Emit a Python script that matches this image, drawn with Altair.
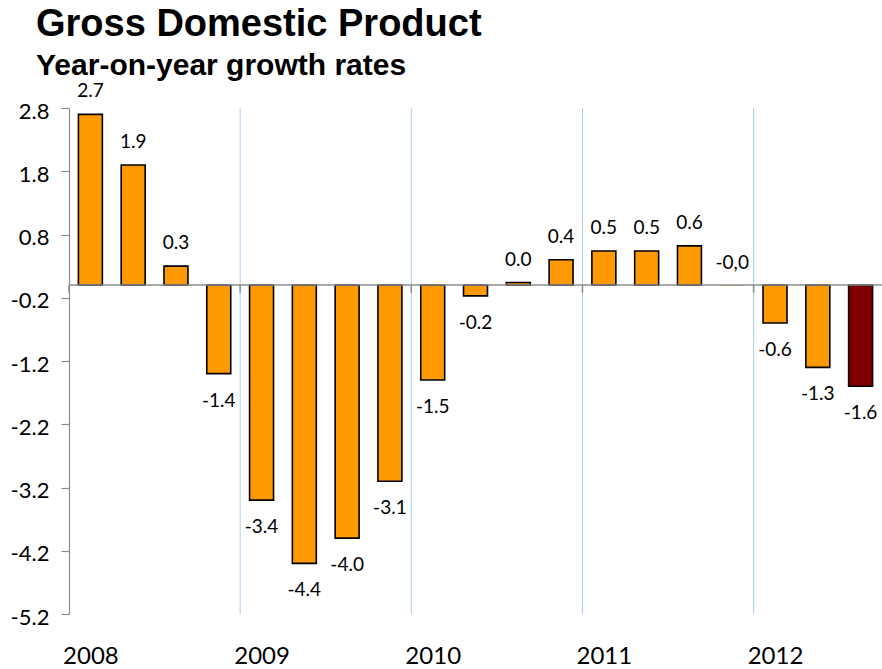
import altair as alt
import pandas as pd

years = ["2008", "2009", "2010", "2011", "2012"]
quarters = ["2008 Q1", "2008 Q2", "2008 Q3", "2008 Q4",
            "2009 Q1", "2009 Q2", "2009 Q3", "2009 Q4",
            "2010 Q1", "2010 Q2", "2010 Q3", "2010 Q4",
            "2011 Q1", "2011 Q2", "2011 Q3", "2011 Q4",
            "2012 Q1", "2012 Q2", "2012 Q3"]
values = [2.7, 1.9, 0.3, -1.4, -3.4, -4.4, -4.0, -3.1, -1.5, -0.17, 0.04,
          0.4, 0.54, 0.54, 0.62, -0.01, -0.6, -1.3, -1.6]
labels = ["2.7", "1.9", "0.3", "-1.4", "-3.4", "-4.4", "-4.0", "-3.1", "-1.5",
          "-0.2", "0.0", "0.4", "0.5", "0.5", "0.6", "-0,0", "-0.6", "-1.3", "-1.6"]
latest = ["no"] * 18 + ["yes"]
y_ticks = [-5.2, -4.2, -3.2, -2.2, -1.2, -0.2, 0.8, 1.8, 2.8]

df = pd.DataFrame({
    "quarter": quarters,
    "idx": list(range(len(quarters))),
    "value": values,
    "label": labels,
    "latest": latest,
})

year_start = [quarters.index(y + " Q1") for y in years]
bounds = pd.DataFrame({"b": [i - 0.5 for i in year_start[1:]] + [-0.5]})
grid_df = pd.DataFrame({"b": [i - 0.5 for i in year_start[1:]]})
zero_df = pd.DataFrame({"z": [0.0]})

xscale = alt.Scale(domain=[-0.5, len(quarters) - 0.5], nice=False, zero=False)
yscale = alt.Scale(domain=[-5.2, 2.8], nice=False, zero=False)

label_expr = "[" + ",".join("'" + y + "'" for y in years) + "][round(datum.value/4)]"
y_label_expr = "(datum.value < 0 ? '-' : '') + format(abs(datum.value), '.1f')"

bars = alt.Chart(df).transform_calculate(
    xl="datum.idx - 0.28", xr="datum.idx + 0.28", base="0",
    edge="abs(datum.value) < 0.02 ? 'transparent' : 'black'"
).mark_bar(strokeWidth=1.6).encode(
    x=alt.X("xl:Q", scale=xscale,
            axis=alt.Axis(values=year_start, labelExpr=label_expr, domain=False,
                          ticks=False, grid=False, title=None, labelFont="Lato",
                          labelFontSize=24, labelColor="black", labelPadding=30,
                          labelFlush=False)),
    x2="xr:Q",
    y=alt.Y("value:Q", scale=yscale,
            axis=alt.Axis(values=y_ticks, labelExpr=y_label_expr, title=None,
                          grid=False, domainColor="#8c8c8c", domainWidth=1.2,
                          tickColor="#8c8c8c", tickSize=8, tickWidth=1.2,
                          labelFont="Lato", labelFontSize=22, labelColor="black",
                          labelPadding=12, labelOffset=3)),
    y2="base:Q",
    color=alt.Color("latest:N", scale=alt.Scale(domain=["no", "yes"],
                    range=["#ff9900", "#800000"]), legend=None),
    stroke=alt.Stroke("edge:N", scale=None),
)

grid = alt.Chart(grid_df).mark_rule(color="#a9cdf5", strokeWidth=1).encode(
    x=alt.X("b:Q", scale=xscale)
)

zero = alt.Chart(zero_df).mark_rule(color="#8c8c8c", strokeWidth=1.5).encode(
    y=alt.Y("z:Q", scale=yscale)
)

small_ticks = alt.Chart(bounds).transform_calculate(
    y0="0", y1="-0.12"
).mark_rule(color="#8c8c8c", strokeWidth=1.5).encode(
    x=alt.X("b:Q", scale=xscale),
    y=alt.Y("y0:Q", scale=yscale),
    y2="y1:Q",
)

text_pos = alt.Chart(df).transform_filter("datum.value > -0.05").mark_text(
    baseline="alphabetic", dy=-17, font="Lato", fontSize=19, color="black"
).encode(
    x=alt.X("idx:Q", scale=xscale),
    y=alt.Y("value:Q", scale=yscale),
    text="label:N",
)

text_neg = alt.Chart(df).transform_filter("datum.value <= -0.05").mark_text(
    baseline="alphabetic", dy=33, font="Lato", fontSize=19, color="black"
).encode(
    x=alt.X("idx:Q", scale=xscale),
    y=alt.Y("value:Q", scale=yscale),
    text="label:N",
)

chart = alt.layer(bars, grid, zero, small_ticks, text_pos, text_neg).properties(
    width=813,
    height=506,
    padding={"left": 69, "top": 108, "right": 0, "bottom": 55},
    autosize=alt.AutoSizeParams(type="none"),
    title=alt.TitleParams(
        "Gross Domestic Product",
        subtitle="Year-on-year growth rates",
        anchor="start", frame="group", dx=-33, offset=1,
        font="Liberation Sans", fontSize=38, fontWeight="bold", color="black",
        subtitleFont="Liberation Sans", subtitleFontSize=30,
        subtitleFontWeight="bold", subtitleColor="black", subtitlePadding=7,
    ),
).configure_view(stroke=None)

chart.save("out.html", embed_options={"renderer": "svg", "actions": False})
